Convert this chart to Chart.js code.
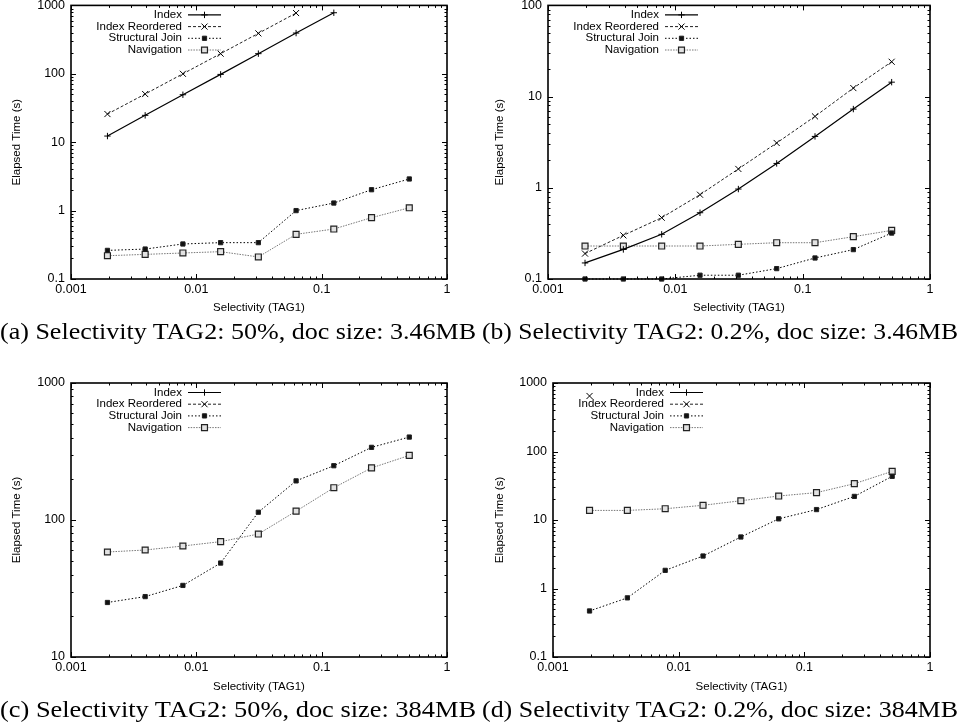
<!DOCTYPE html>
<html><head><meta charset="utf-8">
<script src="https://cdn.jsdelivr.net/npm/chart.js@4/dist/chart.umd.min.js"></script>
<style>
html,body{margin:0;padding:0;background:#fff}
body{width:960px;height:724px;position:relative;overflow:hidden}
canvas{position:absolute}
.cap{position:absolute;font-family:"Liberation Serif","DejaVu Serif",serif;font-size:24px;line-height:24px;white-space:nowrap;transform-origin:0 0;color:#000}
</style></head><body>
<canvas id="ca" width="480" height="320" style="left:0;top:0"></canvas>
<canvas id="cb" width="480" height="320" style="left:480px;top:0"></canvas>
<canvas id="cc" width="480" height="335" style="left:0;top:362px"></canvas>
<canvas id="cd" width="480" height="335" style="left:480px;top:362px"></canvas>
<div class="cap" id="capA" style="left:0;top:319px">(a) Selectivity TAG2: 50%, doc size: 3.46MB</div>
<div class="cap" id="capB" style="left:482px;top:319px">(b) Selectivity TAG2: 0.2%, doc size: 3.46MB</div>
<div class="cap" id="capC" style="left:0;top:697px">(c) Selectivity TAG2: 50%, doc size: 384MB</div>
<div class="cap" id="capD" style="left:482px;top:697px">(d) Selectivity TAG2: 0.2%, doc size: 384MB</div>
<script>
// ---------- data ----------
const selectivity = [0.001953125, 0.00390625, 0.0078125, 0.015625, 0.03125, 0.0625, 0.125, 0.25, 0.5];
const seriesNames = ['Index', 'Index Reordered', 'Structural Join', 'Navigation'];
const xTickLabels = ['0.001', '0.01', '0.1', '1'];
const yTickLabelsA = ['0.1', '1', '10', '100', '1000'];
const yTickLabelsB = ['0.1', '1', '10', '100'];
const yTickLabelsC = ['10', '100', '1000'];
const yTickLabelsD = ['0.1', '1', '10', '100', '1000'];
const xAxisTitle = 'Selectivity (TAG1)';
const yAxisTitle = 'Elapsed Time (s)';

// (a) TAG2 50%, 3.46MB
const aIndex      = [12.3, 24.7, 49.4, 98, 197, 394, 781, null, null];
const aReordered  = [25.8, 50.6, 100, 197, 390, 773, null, null, null];
const aStructJoin = [0.262, 0.274, 0.325, 0.34, 0.34, 1.0, 1.29, 2.02, 2.9];
const aNavigation = [0.219, 0.229, 0.24, 0.251, 0.21, 0.45, 0.538, 0.788, 1.1];
// (b) TAG2 0.2%, 3.46MB
const bIndex      = [0.15, 0.211, 0.309, 0.533, 0.969, 1.85, 3.66, 7.3, 14.4];
const bReordered  = [0.19, 0.301, 0.47, 0.84, 1.61, 3.1, 6.07, 12.4, 24.1];
const bStructJoin = [0.1, 0.1, 0.1, 0.11, 0.11, 0.13, 0.17, 0.21, 0.319];
const bNavigation = [0.23, 0.23, 0.23, 0.23, 0.24, 0.25, 0.25, 0.291, 0.341];
// (c) TAG2 50%, 384MB
const cIndex      = [null, null, null, null, null, null, null, null, null];
const cReordered  = [null, null, null, null, null, null, null, null, null];
const cStructJoin = [25.0, 27.6, 33.3, 48.5, 114, 193, 249, 339, 403];
const cNavigation = [58.4, 60.4, 64.6, 69.5, 79, 116, 172, 240, 296];
// (d) TAG2 0.2%, 384MB
const dIndex      = [null, null, null, null, null, null, null, null, null];
const dReordered  = [646, null, null, null, null, null, null, null, null];
const dStructJoin = [0.47, 0.73, 1.84, 2.98, 5.65, 10.4, 14.2, 22.1, 43.4];
const dNavigation = [13.8, 13.8, 14.6, 16.4, 19.1, 22.4, 25.1, 33.9, 51.3];

// ---------- styles ----------
const FONT = '"Liberation Sans", Arial, Helvetica, sans-serif';
Chart.defaults.font.family = FONT;
Chart.defaults.color = '#000';

const seriesStyles = [
  {borderColor:'#000', borderWidth:1.2, borderDash:[], pointStyle:'cross', pointRadius:3.2, pointBorderColor:'#000', pointBackgroundColor:'#000', pointBorderWidth:1},
  {borderColor:'#222', borderWidth:1, borderDash:[3,2], pointStyle:'crossRot', pointRadius:4.3, pointBorderColor:'#000', pointBackgroundColor:'#000', pointBorderWidth:1},
  {borderColor:'#000', borderWidth:1, borderDash:[1.5,2], pointStyle:'rect', pointRadius:3, pointBorderColor:'#222', pointBackgroundColor:'#111', pointBorderWidth:1},
  {borderColor:'#777', borderWidth:1, borderDash:[1.5,1.2], pointStyle:'rect', pointRadius:4.2, pointBorderColor:'#222', pointBackgroundColor:'#e2e2e2', pointBorderWidth:1.2}
];

function toPoints(arr){
  return selectivity.map((x,i)=>({x:x, y:arr[i]})).filter(p=>p.y!==null);
}
function labelFor(v, labels){
  const lv = Math.log10(v);
  const hit = labels.find(l => Math.abs(Math.log10(parseFloat(l)) - lv) < 1e-6);
  return hit === undefined ? '' : hit;
}

// gnuplot-like frame with inward ticks on all sides
const gpFrame = {
  id:'gpFrame',
  afterDatasetsDraw(chart){
    const {ctx, chartArea:a, scales} = chart;
    const x = scales.x, y = scales.y;
    ctx.save();
    ctx.strokeStyle = '#000';
    ctx.lineWidth = 1;
    ctx.setLineDash([]);
    ctx.beginPath();
    const e0x = Math.round(Math.log10(x.min)), e1x = Math.round(Math.log10(x.max));
    for (let e=e0x; e<=e1x; e++) for (let d=1; d<10; d++){
      const v = d*Math.pow(10,e);
      if (v < x.min*0.999 || v > x.max*1.001) continue;
      const px = Math.round(x.getPixelForValue(v))+0.5;
      const len = d===1?5:2.5;
      ctx.moveTo(px, a.bottom); ctx.lineTo(px, a.bottom-len);
      ctx.moveTo(px, a.top); ctx.lineTo(px, a.top+len);
    }
    const e0y = Math.round(Math.log10(y.min)), e1y = Math.round(Math.log10(y.max));
    for (let e=e0y; e<=e1y; e++) for (let d=1; d<10; d++){
      const v = d*Math.pow(10,e);
      if (v < y.min*0.999 || v > y.max*1.001) continue;
      const py = Math.round(y.getPixelForValue(v))+0.5;
      const len = d===1?5:2.5;
      ctx.moveTo(a.left, py); ctx.lineTo(a.left+len, py);
      ctx.moveTo(a.right, py); ctx.lineTo(a.right-len, py);
    }
    ctx.stroke();
    ctx.lineWidth = 1.6;
    ctx.strokeRect(a.left, a.top, a.right-a.left, a.bottom-a.top);
    ctx.restore();
  }
};

function drawMarker(ctx, st, x, y){
  ctx.save();
  ctx.setLineDash([]);
  ctx.strokeStyle = st.pointBorderColor;
  ctx.fillStyle = st.pointBackgroundColor;
  ctx.lineWidth = st.pointBorderWidth;
  if (Chart.helpers && Chart.helpers.drawPoint){
    Chart.helpers.drawPoint(ctx, {pointStyle:st.pointStyle, radius:st.pointRadius, rotation:0, borderWidth:st.pointBorderWidth}, x, y);
  }
  ctx.restore();
}

// gnuplot-like key inside the plot, text right-aligned then line sample
const gpKey = {
  id:'gpKey',
  afterDraw(chart){
    const {ctx, chartArea:a} = chart;
    ctx.save();
    ctx.font = '11.5px ' + FONT;
    ctx.fillStyle = '#000';
    ctx.textAlign = 'right';
    ctx.textBaseline = 'middle';
    const textRight = a.left + 111;
    seriesNames.forEach((name,i)=>{
      const yy = a.top + 9.5 + i*11.7;
      ctx.fillText(name, textRight, yy);
      const st = seriesStyles[i];
      ctx.save();
      ctx.strokeStyle = st.borderColor;
      ctx.lineWidth = st.borderWidth;
      ctx.setLineDash(st.borderDash);
      ctx.beginPath();
      ctx.moveTo(textRight+6, yy); ctx.lineTo(textRight+39, yy);
      ctx.stroke();
      ctx.restore();
      drawMarker(ctx, st, textRight+22.5, yy);
    });
    ctx.restore();
  }
};

function makeChart(id, p){
  const series = [p.index, p.reordered, p.sj, p.nav];
  const datasets = series.map((arr,i)=>Object.assign({
    label: seriesNames[i],
    data: toPoints(arr),
    fill:false, tension:0, clip:8,
    pointHoverRadius:0
  }, seriesStyles[i]));
  return new Chart(document.getElementById(id), {
    type:'line',
    data:{datasets},
    options:{
      responsive:false, animation:false, devicePixelRatio:1,
      layout:{padding:{left:0, right:p.padR, top:p.padT, bottom:0}},
      plugins:{legend:{display:false}, tooltip:{enabled:false}},
      events:[],
      scales:{
        x:{
          type:'logarithmic', min:0.001, max:1,
          grid:{display:false, drawTicks:false}, border:{display:false},
          ticks:{autoSkip:false, maxRotation:0, minRotation:0, padding:3.5, font:{size:12.5}, color:'#000',
                 callback:(v)=>labelFor(v, xTickLabels)},
          title:{display:true, text:xAxisTitle, font:{size:11.5}, color:'#000', padding:{top:0, bottom:p.xTitlePad}},
          afterFit:(s)=>{ s.height = p.xH; s.paddingLeft = 0; s.paddingRight = 0; }
        },
        y:{
          type:'logarithmic', min:p.ymin, max:p.ymax,
          grid:{display:false, drawTicks:false}, border:{display:false},
          ticks:{autoSkip:false, padding:6, font:{size:12.5}, color:'#000',
                 callback:(v)=>labelFor(v, p.yLabels)},
          title:{display:true, text:yAxisTitle, font:{size:11.5}, color:'#000', padding:{top:p.yTitlePad, bottom:0}},
          afterFit:(s)=>{ s.width = p.yW; s.paddingTop = 0; s.paddingBottom = 0; }
        }
      }
    },
    plugins:[gpFrame, gpKey]
  });
}

makeChart('ca', {index:aIndex, reordered:aReordered, sj:aStructJoin, nav:aNavigation,
  ymin:0.1, ymax:1000, yLabels:yTickLabelsA, padT:5, padR:33, yW:71, xH:41, xTitlePad:5, yTitlePad:10});
makeChart('cb', {index:bIndex, reordered:bReordered, sj:bStructJoin, nav:bNavigation,
  ymin:0.1, ymax:100, yLabels:yTickLabelsB, padT:5, padR:30, yW:68, xH:41, xTitlePad:5, yTitlePad:13});
makeChart('cc', {index:cIndex, reordered:cReordered, sj:cStructJoin, nav:cNavigation,
  ymin:10, ymax:1000, yLabels:yTickLabelsC, padT:21, padR:33, yW:71, xH:40, xTitlePad:3, yTitlePad:10});
makeChart('cd', {index:dIndex, reordered:dReordered, sj:dStructJoin, nav:dNavigation,
  ymin:0.1, ymax:1000, yLabels:yTickLabelsD, padT:21, padR:30, yW:73, xH:40, xTitlePad:3, yTitlePad:13});

// fit captions to the width they take in the original
['capA','capB','capC','capD'].forEach(id=>{
  const el = document.getElementById(id);
  const w = el.getBoundingClientRect().width;
  el.style.transform = 'scaleX(' + (476 / w) + ')';
});
</script>
</body></html>
